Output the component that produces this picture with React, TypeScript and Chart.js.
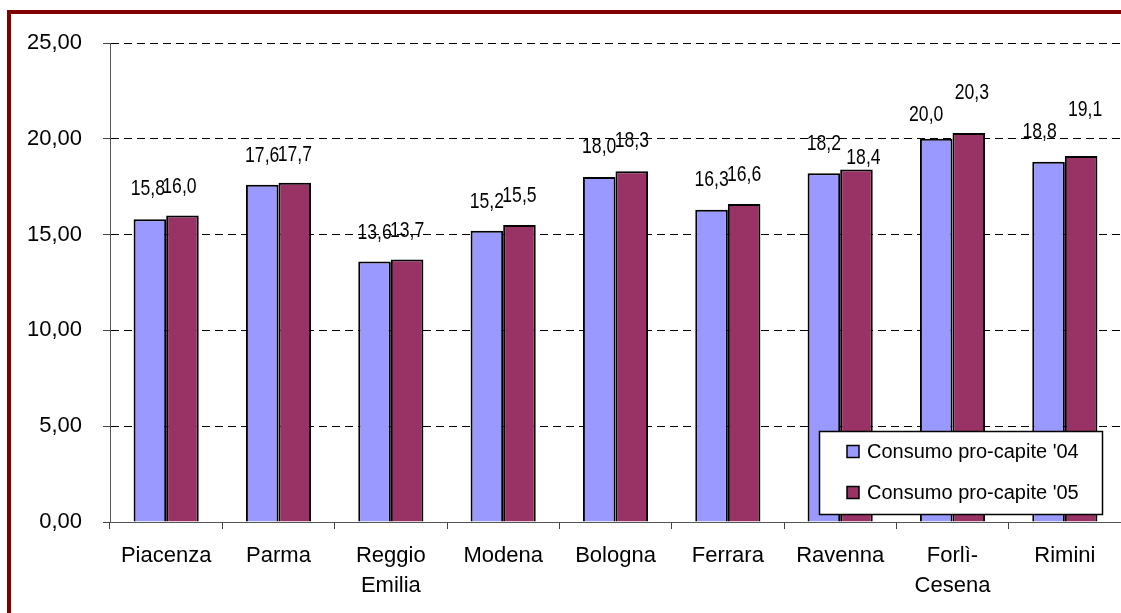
import React, { useEffect, useRef } from "react";
import { Chart, registerables } from "chart.js";

Chart.register(...registerables);

const categories: string[][] = [
  ["Piacenza"],
  ["Parma"],
  ["Reggio", "Emilia"],
  ["Modena"],
  ["Bologna"],
  ["Ferrara"],
  ["Ravenna"],
  ["Forlì-", "Cesena"],
  ["Rimini"],
];

const seriesNames = ["Consumo pro-capite '04", "Consumo pro-capite '05"];
const values04 = [15.8, 17.6, 13.6, 15.2, 18.0, 16.3, 18.2, 20.0, 18.8];
const values05 = [16.0, 17.7, 13.7, 15.5, 18.3, 16.6, 18.4, 20.3, 19.1];

const yMin = 0;
const yMax = 25;
const yStep = 5;

// label nudges [dx, dy above bar top] – styling only
const labelShift04: number[][] = [[-2, 31], [0, 30], [0, 29], [0, 30], [0, 31], [0, 31], [0, 30], [-10, 25], [-9, 31]];
const labelShift05: number[][] = [[-3, 30], [0, 29], [0, 30], [0, 30], [0, 31], [0, 30], [7, 13], [3, 41], [4, 47]];

const colors = ["#9999FF", "#993366"];
const FONT = '"Liberation Sans", Arial, sans-serif';

const framePlugin = {
  id: "frame",
  beforeDraw(chart: any) {
    const ctx = chart.ctx;
    ctx.save();
    ctx.fillStyle = "#ffffff";
    ctx.fillRect(0, 0, chart.width, chart.height);
    ctx.fillStyle = "#800000";
    ctx.fillRect(7, 10, 4, chart.height - 10);
    ctx.fillRect(7, 10, chart.width - 7, 4);
    ctx.restore();
  },
};

const dataLabelPlugin = {
  id: "dataLabels",
  afterDatasetsDraw(chart: any) {
    const ctx = chart.ctx;
    chart.data.datasets.forEach((ds: any, di: number) => {
      const meta = chart.getDatasetMeta(di);
      const shifts = di === 0 ? labelShift04 : labelShift05;
      meta.data.forEach((bar: any, i: number) => {
        const v = ds.data[i] as number;
        const [dx, dy] = shifts[i];
        ctx.save();
        ctx.translate(bar.x + dx, bar.y - dy);
        ctx.scale(0.8, 1);
        ctx.font = `22px ${FONT}`;
        ctx.textAlign = "center";
        ctx.textBaseline = "middle";
        ctx.fillStyle = "#000";
        ctx.fillText(v.toFixed(1).replace(".", ","), 0, 1);
        ctx.restore();
      });
    });
  },
};

const legendPlugin = {
  id: "customLegend",
  afterDraw(chart: any) {
    const ctx = chart.ctx;
    const ca = chart.chartArea;
    const w = 283;
    const h = 83;
    const lx = Math.round(ca.right - 302);
    const ly = Math.round(ca.bottom - 91);
    ctx.save();
    ctx.fillStyle = "#ffffff";
    ctx.fillRect(lx, ly, w, h);
    ctx.strokeStyle = "#000";
    ctx.lineWidth = 1.5;
    ctx.strokeRect(lx + 0.5, ly + 0.5, w, h);
    chart.data.datasets.forEach((ds: any, i: number) => {
      const cy = ly + 20.5 + i * 41;
      ctx.fillStyle = ds.backgroundColor;
      ctx.fillRect(lx + 28, cy - 6, 12, 12);
      ctx.strokeStyle = "#000";
      ctx.lineWidth = 1.5;
      ctx.strokeRect(lx + 28, cy - 6, 12, 12);
      ctx.fillStyle = "#000";
      ctx.font = `20px ${FONT}`;
      ctx.textAlign = "left";
      ctx.textBaseline = "middle";
      ctx.fillText(ds.label, lx + 48, cy + 1);
    });
    ctx.restore();
  },
};

export default function App() {
  const ref = useRef<HTMLCanvasElement>(null);

  useEffect(() => {
    if (!ref.current) return;
    const chart = new Chart(ref.current, {
      type: "bar",
      data: {
        labels: categories,
        datasets: [
          {
            label: seriesNames[0],
            data: values04,
            backgroundColor: colors[0],
            borderColor: "#000",
            borderWidth: 2,
            borderSkipped: "start",
          },
          {
            label: seriesNames[1],
            data: values05,
            backgroundColor: colors[1],
            borderColor: "#000",
            borderWidth: 2,
            borderSkipped: "start",
          },
        ],
      },
      options: {
        responsive: false,
        animation: false,
        events: [],
        layout: { padding: { top: 43, left: 0, right: 0, bottom: 0 } },
        plugins: {
          legend: { display: false },
          tooltip: { enabled: false },
          title: { display: false },
        },
        datasets: {
          bar: { categoryPercentage: 0.58, barPercentage: 1 },
        },
        scales: {
          x: {
            type: "category",
            offset: true,
            grid: {
              display: true,
              offset: true,
              drawOnChartArea: false,
              drawTicks: true,
              tickLength: 7,
              color: "#444",
              tickColor: "#444",
            },
            border: { display: true, color: "#555", width: 1 },
            ticks: {
              color: "#000",
              font: { family: FONT, size: 22, lineHeight: 1.36 },
              padding: 12,
              maxRotation: 0,
              minRotation: 0,
              autoSkip: false,
            },
            afterFit(scale: any) {
              scale.height = 91;
            },
          },
          y: {
            type: "linear",
            min: yMin,
            max: yMax,
            grid: {
              display: true,
              color: "#000",
              lineWidth: 1,
              drawTicks: true,
              tickLength: 7,
              tickColor: "#444",
              tickBorderDash: [],
            },
            border: { display: true, color: "#555", width: 1, dash: [8, 5] },
            ticks: {
              stepSize: yStep,
              color: "#000",
              font: { family: FONT, size: 22 },
              padding: 21,
              callback: (v: any) => Number(v).toFixed(2).replace(".", ","),
            },
            afterFit(scale: any) {
              scale.width = 110;
            },
          },
        },
      },
      plugins: [framePlugin, dataLabelPlugin, legendPlugin],
    });
    return () => chart.destroy();
  }, []);

  return (
    <div style={{ position: "fixed", left: 0, top: 0, width: 1121, height: 613, background: "#fff" }}>
      <canvas ref={ref} width={1121} height={613} style={{ display: "block", width: 1121, height: 613 }} />
    </div>
  );
}
